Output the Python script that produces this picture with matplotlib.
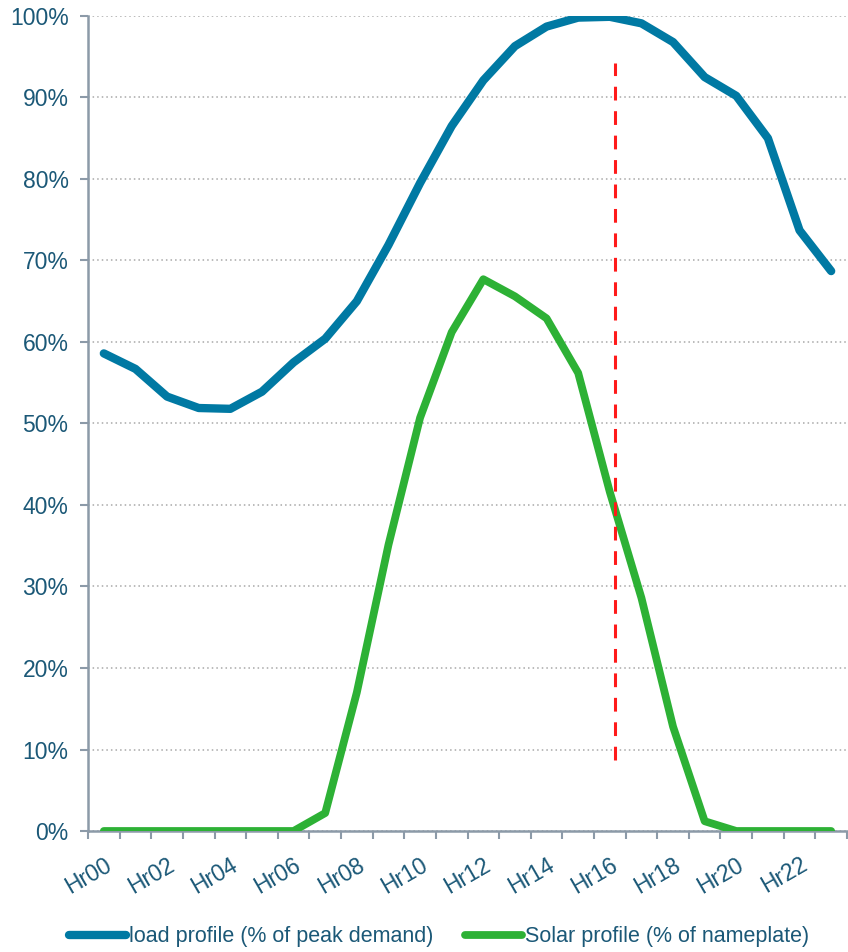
import numpy as np
import matplotlib
matplotlib.use('Agg')
import matplotlib.pyplot as plt
from matplotlib.ticker import FixedLocator, PercentFormatter

hours = [f'Hr{i:02d}' for i in range(24)]
load = [58.6, 56.7, 53.3, 51.9, 51.8, 53.9, 57.5, 60.4, 65.0, 71.9, 79.5, 86.5,
        92.1, 96.3, 98.7, 99.8, 99.9, 99.1, 96.8, 92.5, 90.2, 85.0, 73.7, 68.7]
solar = [0, 0, 0, 0, 0, 0, 0, 2.2, 17.0, 35.1, 50.7, 61.2,
         67.7, 65.6, 62.9, 56.2, 41.6, 28.6, 12.8, 1.2, 0, 0, 0, 0]
peak_x = 16.15
peak_span = (8.7, 94.2)

txt = '#1b5877'
spine = '#8c9aa8'
plt.rcParams['font.family'] = ['Liberation Sans', 'DejaVu Sans']

fig = plt.figure(figsize=(8.48, 9.52), dpi=100)
ax = fig.add_axes([0.1038, 0.1271, 0.8950, 0.8561])

x = np.arange(len(hours))
ax.plot(x, load, color='#0079a3', lw=6.0, solid_capstyle='round', solid_joinstyle='round',
        label='load profile (% of peak demand)', zorder=3)
ax.plot(x, solar, color='#2db135', lw=5.6, solid_capstyle='round', solid_joinstyle='round',
        label='Solar profile (% of nameplate)', zorder=3)
ax.vlines(peak_x, peak_span[0], peak_span[1], color='#ff1a1a', lw=2.2,
          linestyles=(0, (4.5, 3.5)), zorder=4)

ax.set_xlim(-0.5, 23.5)
ax.set_ylim(0, 100)
ax.set_yticks(np.arange(0, 101, 10))
ax.yaxis.set_major_formatter(PercentFormatter(decimals=0))
ax.grid(axis='y', color='#a8a8a8', ls=(0, (1, 2)), lw=1.1)
ax.set_axisbelow(True)

ax.set_xticks(x[::2])
ax.set_xticklabels(hours[::2], rotation=30, ha='right', rotation_mode='anchor')
ax.xaxis.set_minor_locator(FixedLocator(np.arange(-0.5, 24, 1)))
ax.tick_params(axis='x', which='major', length=0, pad=16, labelsize=16.5, labelcolor=txt)
ax.tick_params(axis='x', which='minor', length=6, width=1.5, color=spine, direction='out')
ax.tick_params(axis='y', length=6, width=1.5, color=spine, labelsize=16.5, labelcolor=txt, pad=8)

for s in ['top', 'right']:
    ax.spines[s].set_visible(False)
for s in ['left', 'bottom']:
    ax.spines[s].set_color(spine)
    ax.spines[s].set_linewidth(1.8)

leg = fig.legend(loc='center', bbox_to_anchor=(0.518, 0.016), ncol=2, frameon=False,
                 fontsize=15.5, handlelength=2.65, handletextpad=0.15, columnspacing=1.45,
                 labelcolor=txt)

fig.savefig('out.png', dpi=100)
